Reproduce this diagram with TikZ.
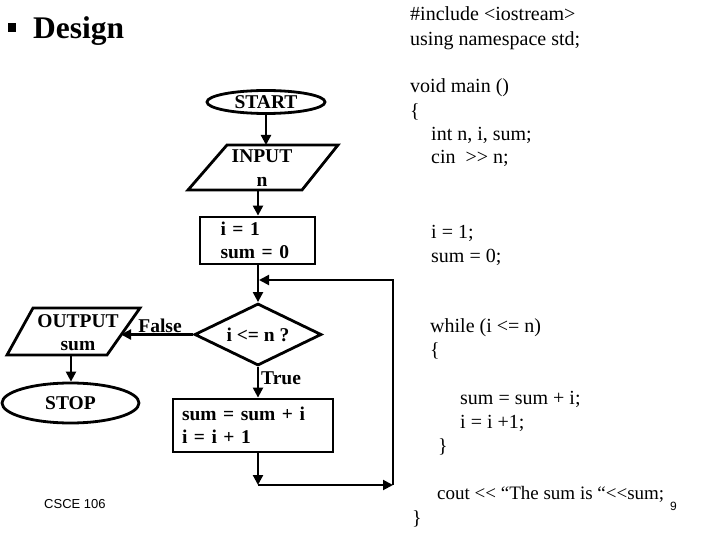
\documentclass[tikz,border=0pt]{standalone}
\usepackage{fontspec}
\setmainfont{Liberation Serif}
\newfontfamily\sansfam{Liberation Sans}
\usetikzlibrary{shapes.geometric,arrows.meta}
\tikzset{
  shp/.style={draw, line width=2.8pt},
  fc/.style={font=\fontsize{19.5}{23}\selectfont\bfseries},
  term/.style={draw, ellipse, line width=2.8pt, inner sep=0pt, fc},
  box/.style={draw, rectangle, line width=2.8pt, fc},
  arr/.style={line width=2.2pt, -{Triangle[length=10pt,width=10pt]}},
  loopline/.style={line width=2pt},
  code/.style={font=\fontsize{20}{24}\selectfont, anchor=base west, inner sep=0pt},
  lbl/.style={fc, inner sep=0pt}
}
\begin{document}
\begin{tikzpicture}[x=1pt,y=-1pt]
\useasboundingbox (0,0) rectangle (720,540);
% title
\node[fill, minimum width=8pt, minimum height=9pt, inner sep=0pt] (bullet) at (12,27.5) {};
\node[font=\fontsize{31.5}{36}\selectfont\bfseries, anchor=base west, inner sep=0pt] (title) at (33,38.5) {Design};

% flowchart
\node[term, minimum width=118pt, minimum height=23pt] (start) at (266,102) {START};

\draw[shp] (227,145) -- (338,145) -- (302,190) -- (188,190) -- cycle;
\node[fc, align=center, inner sep=0pt] (input) at (262,168) {INPUT\\[1pt]n};
\coordinate (inN) at (266,145);
\coordinate (inS) at (258,190);

\node[box, minimum width=115pt, minimum height=47pt, text width=74pt, inner xsep=20.5pt, inner ysep=0pt, align=left] (init) at (257.5,240.5) {i = 1\\sum = 0};

\node[draw, diamond, aspect=2, minimum width=127pt, minimum height=62pt, inner sep=0pt, line width=2.8pt, fc] (dec) at (258,334.5) {i <= n ?};

\draw[shp] (33,308) -- (140,308) -- (107,355) -- (7,355) -- cycle;
\node[fc, align=center, inner sep=0pt] (output) at (78,333) {OUTPUT\\sum};
\coordinate (outE) at (121,334.5);
\coordinate (outS) at (71,355);

\node[term, minimum width=137pt, minimum height=40pt] (stop) at (70.5,403) {STOP};

\node[box, minimum height=53pt, text width=142pt, inner xsep=9pt, inner ysep=0pt, align=left] (body) at (253,425.5) {sum = sum + i\\i = i + 1};

\coordinate (j1) at (258,485);
\coordinate (j2) at (393,485);
\coordinate (j3) at (393,280);
\coordinate (j4) at (259,280);

% connectors
\draw[arr] (start) -- (inN);
\draw[arr] (inS) -- (inS |- init.north);
\draw[arr] (init.south -| dec.north) -- (dec.north);
\draw[arr] (dec.west) -- (outE);
\node[lbl] (false) at (160,326) {False};
\draw[arr] (outS) -- (outS |- stop.north);
\draw[arr] (dec.south) -- (dec.south |- body.north);
\node[lbl, anchor=west] (true) at (261,378) {True};
\draw[arr] (body.south -| j1) -- (j1);
\draw[arr, line width=2pt] (j1) -- (j2);
\draw[loopline, -{Triangle[length=10pt,width=10pt]}] (j2) -- (j3) -- (j4);

% code
\node[code] (c1) at (410,21) {\#include <iostream>};
\node[code] (c2) at (410,46) {using namespace std;};
\node[code] (c3) at (410,93) {void main ()};
\node[code] (c4) at (410,118) {\{};
\node[code] (c5) at (431,141) {int n, i, sum;};
\node[code] (c6) at (431,164) {cin\ \ >{}> n;};
\node[code] (c7) at (431,238) {i = 1;};
\node[code] (c8) at (431,262) {sum = 0;};
\node[code] (c9) at (430,332) {while (i <= n)};
\node[code] (c10) at (430,356) {\{};
\node[code] (c11) at (460,404) {sum = sum + i;};
\node[code] (c12) at (460,428) {i = i +1;};
\node[code] (c13) at (438,452) {\}};
\node[code, font=\fontsize{19}{24}\selectfont] (c14) at (437,499) {cout <{}< “The sum is “<{}<sum;};
\node[code] (c15) at (412,524) {\}};

% footer
\node[font=\sansfam\fontsize{13}{15}\selectfont, anchor=base west, inner sep=0pt] (footer) at (44,508) {CSCE 106};
\node[font=\sansfam\fontsize{12}{14}\selectfont, anchor=base west, inner sep=0pt] (pg) at (670,510) {9};
\end{tikzpicture}
\end{document}
